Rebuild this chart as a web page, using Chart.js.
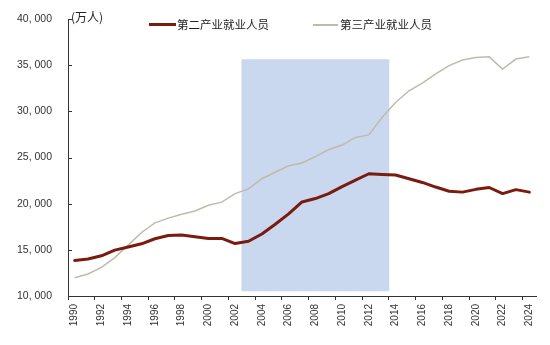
<!DOCTYPE html>
<html><head><meta charset="utf-8">
<script src="https://cdn.jsdelivr.net/npm/chart.js@4.4.1/dist/chart.umd.min.js"></script>
<style>
body{margin:0;background:#fff;}
#wrap{position:relative;width:550px;height:345px;}
.lg{position:absolute;font-family:"Noto Sans CJK SC";font-size:11.5px;color:#222;line-height:14px;white-space:nowrap;}
.ln{position:absolute;}
</style></head><body>
<div id="wrap"><canvas id="c" width="550" height="345"></canvas>
<div class="lg" style="left:71px;top:10px;font-size:12px">(万人)</div>
<div class="ln" id="l1" style="left:149px;top:23px;width:27px;height:3px;"></div>
<div class="lg" id="t1" style="left:177px;top:17px"></div>
<div class="ln" id="l2" style="left:313px;top:24px;width:25px;height:1.5px;"></div>
<div class="lg" id="t2" style="left:340px;top:17px"></div>
</div>
<script>
const years = ['1990','1991','1992','1993','1994','1995','1996','1997','1998','1999','2000','2001','2002','2003','2004','2005','2006','2007','2008','2009','2010','2011','2012','2013','2014','2015','2016','2017','2018','2019','2020','2021','2022','2023','2024'];
const secondaryName = '第二产业就业人员';
const tertiaryName = '第三产业就业人员';
const secondary = [13856,14015,14355,14965,15312,15655,16203,16547,16600,16421,16219,16234,15682,15927,16709,17766,18894,20186,20553,21080,21842,22544,23241,23170,23099,22693,22300,21800,21350,21250,21550,21750,21090,21520,21250];
const tertiary = [11979,12378,13098,14163,15515,16880,17927,18432,18860,19205,19823,20165,21090,21600,22700,23400,24100,24400,25100,25870,26350,27170,27450,29350,30960,32230,33050,34050,34950,35550,35830,35900,34580,35660,35900];
const shadeYears = ['2003','2013'];
const shadeValues = [10550, 35600];
const yTicks = [10000,15000,20000,25000,30000,35000,40000];

const secColor = '#7a1b10';
const terColor = '#bdbcab';
const shadeColor = '#c9d7ef';

document.getElementById('l1').style.background = secColor;
document.getElementById('l2').style.background = terColor;
document.getElementById('t1').textContent = secondaryName;
document.getElementById('t2').textContent = tertiaryName;

const i0 = years.indexOf(shadeYears[0]), i1 = years.indexOf(shadeYears[1]);
const shadeData = years.map((y,i) => (i>=i0 && i<=i1) ? [shadeValues[0], shadeValues[1]] : null);

const fmt = v => { const s = String(v); return s.slice(0, s.length-3) + ', ' + s.slice(-3); };

const innerTicks = {id:'innerTicks', afterDatasetsDraw(chart){
  const y = chart.scales.y, ctx = chart.ctx;
  ctx.save(); ctx.strokeStyle = '#333'; ctx.lineWidth = 1;
  y.ticks.forEach((t,i) => { const py = Math.round(y.getPixelForTick(i)) + 0.5;
    ctx.beginPath(); ctx.moveTo(y.right, py); ctx.lineTo(y.right + 4, py); ctx.stroke(); });
  ctx.restore();
}};

new Chart(document.getElementById('c'), {
  type: 'line',
  data: { labels: years, datasets: [
    { type:'line', label: secondaryName, data: secondary, borderColor: secColor, backgroundColor: secColor, borderWidth: 3, pointRadius: 0, tension: 0, order: 0, borderJoinStyle:'round', borderCapStyle:'round' },
    { type:'line', label: tertiaryName, data: tertiary, borderColor: terColor, backgroundColor: terColor, borderWidth: 1.5, pointRadius: 0, tension: 0, order: 1 },
    { type:'bar', label: 'shade', data: shadeData, backgroundColor: shadeColor, borderWidth: 0, barPercentage: 1, categoryPercentage: 1, order: 2 }
  ]},
  options: {
    responsive: false, animation: false,
    layout: { padding: { left: 0, top: 19, right: 14, bottom: 0 } },
    plugins: { legend: { display: false }, tooltip: { enabled: false } },
    scales: {
      x: { offset: true,
        grid: { offset: true, drawOnChartArea: false, drawTicks: true, tickLength: 4,
          tickColor: c => (c.index % 2 === 0 && c.index < years.length) ? '#333' : 'rgba(0,0,0,0)' },
        border: { display: true, color: '#333', width: 1 },
        ticks: { autoSkip: false, minRotation: 90, maxRotation: 90, padding: 4, color: '#333',
          font: { family: 'Liberation Sans', size: 10 },
          callback: (v, i) => i % 2 === 0 ? years[i] : '' },
        afterFit: s => { s.height = 49; }
      },
      y: { min: 10000, max: 40000,
        afterBuildTicks: s => { s.ticks = yTicks.map(v => ({ value: v })); },
        grid: { drawOnChartArea: false, drawTicks: true, tickLength: 12, tickColor: 'rgba(0,0,0,0)' },
        border: { display: true, color: '#333', width: 1 },
        ticks: { padding: 4, color: '#333', font: { family: 'Liberation Sans', size: 10.5 }, callback: v => fmt(v) },
        afterFit: s => { s.width = 68; }
      }
    }
  },
  plugins: [innerTicks]
});
</script>
</body></html>
